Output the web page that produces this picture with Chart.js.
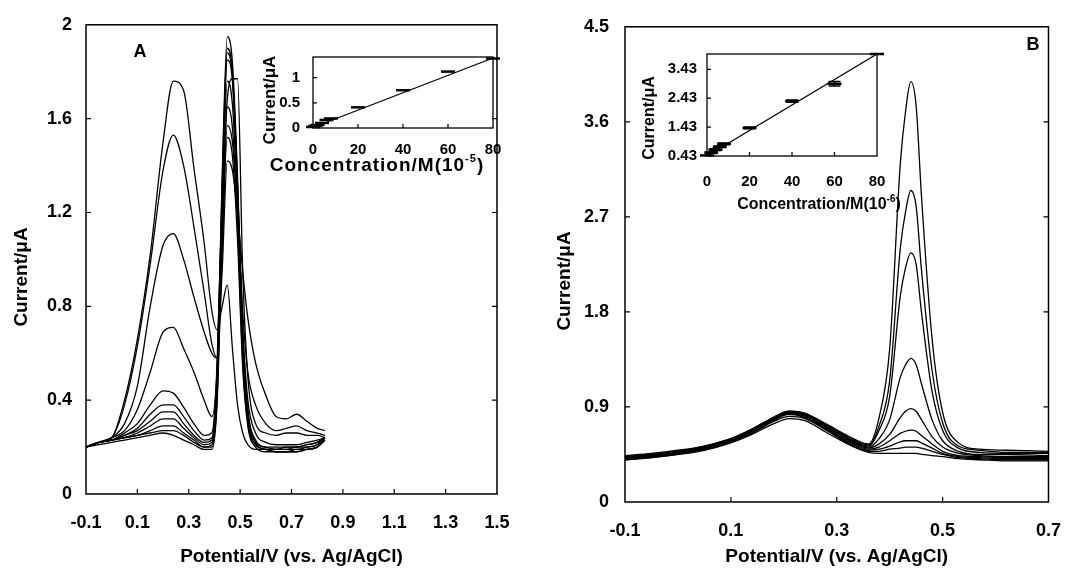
<!DOCTYPE html>
<html><head><meta charset="utf-8">
<script src="https://cdn.jsdelivr.net/npm/chart.js@4.4.1/dist/chart.umd.min.js"></script>
<style>
html,body{margin:0;padding:0;background:#fff;}
body{width:1079px;height:572px;position:relative;overflow:hidden;}
canvas{position:absolute;}
</style></head><body>
<canvas id="mainA" width="540" height="572" style="left:0;top:0;width:540px;height:572px"></canvas>
<canvas id="mainB" width="539" height="572" style="left:540px;top:0;width:539px;height:572px"></canvas>
<canvas id="insetA" width="280" height="150" style="left:240px;top:35px;width:280px;height:150px"></canvas>
<canvas id="insetB" width="300" height="185" style="left:620px;top:35px;width:300px;height:185px"></canvas>
<script>
// ---------- Panel A (left) ----------
const leftPotential = [-0.10,-0.05,0.00,0.05,0.10,0.15,0.20,0.24,0.28,0.32,0.36,0.39,0.41,0.43,0.45,0.47,0.49,0.51,0.53,0.56,0.60,0.64,0.68,0.72,0.76,0.80,0.83];
const leftCurrent1  = [0.20,0.22,0.24,0.40,0.66,1.02,1.50,1.76,1.72,1.39,1.07,0.78,0.70,0.80,0.89,0.62,0.38,0.26,0.21,0.19,0.19,0.19,0.20,0.20,0.21,0.22,0.24];
const leftCurrent2  = [0.20,0.22,0.24,0.38,0.63,0.98,1.38,1.53,1.40,1.14,0.86,0.64,0.58,0.95,1.42,1.38,1.20,0.95,0.75,0.56,0.42,0.33,0.32,0.34,0.31,0.28,0.27];
const leftCurrent3  = [0.20,0.22,0.24,0.30,0.46,0.80,1.06,1.11,1.00,0.84,0.69,0.60,0.58,1.05,1.57,1.50,1.20,0.78,0.52,0.38,0.30,0.27,0.28,0.29,0.27,0.26,0.25];
const leftCurrent4  = [0.20,0.22,0.24,0.27,0.36,0.52,0.69,0.71,0.62,0.52,0.40,0.33,0.52,1.20,1.68,1.77,1.77,0.95,0.50,0.30,0.26,0.25,0.26,0.26,0.25,0.25,0.24];
const leftCurrent5  = [0.20,0.22,0.23,0.26,0.30,0.38,0.44,0.43,0.37,0.30,0.25,0.26,0.55,1.28,1.85,1.76,1.30,0.72,0.40,0.26,0.22,0.21,0.21,0.21,0.22,0.23,0.24];
const leftCurrent6  = [0.20,0.22,0.23,0.25,0.28,0.34,0.38,0.38,0.33,0.27,0.23,0.24,0.50,1.35,1.95,1.84,1.35,0.68,0.36,0.23,0.20,0.20,0.20,0.20,0.21,0.22,0.24];
const leftCurrent7  = [0.20,0.22,0.23,0.25,0.27,0.31,0.35,0.35,0.30,0.25,0.22,0.23,0.48,1.32,1.90,1.80,1.32,0.66,0.35,0.22,0.20,0.19,0.19,0.20,0.20,0.21,0.24];
const leftCurrent8  = [0.20,0.22,0.23,0.24,0.26,0.29,0.32,0.32,0.28,0.24,0.21,0.22,0.45,1.26,1.88,1.78,1.30,0.64,0.34,0.22,0.19,0.19,0.19,0.19,0.20,0.21,0.24];
const leftCurrent9  = [0.20,0.22,0.23,0.24,0.25,0.27,0.29,0.29,0.26,0.23,0.20,0.21,0.42,1.18,1.76,1.66,1.22,0.60,0.32,0.21,0.19,0.18,0.18,0.19,0.19,0.20,0.23];
const leftCurrent10 = [0.20,0.22,0.23,0.24,0.25,0.26,0.27,0.27,0.25,0.22,0.20,0.20,0.40,1.12,1.65,1.56,1.15,0.56,0.30,0.21,0.19,0.18,0.18,0.18,0.19,0.20,0.23];
const leftCurrent11 = [0.20,0.21,0.22,0.23,0.24,0.25,0.26,0.25,0.23,0.21,0.19,0.19,0.38,1.05,1.52,1.44,1.08,0.54,0.29,0.20,0.18,0.18,0.18,0.18,0.19,0.20,0.23];
const leftXTicks = [-0.1,0.1,0.3,0.5,0.7,0.9,1.1,1.3,1.5];
const leftYTicks = [0,0.4,0.8,1.2,1.6,2];

// ---------- Panel B (right) ----------
const rightPotential = [-0.10,-0.05,0.00,0.05,0.10,0.14,0.18,0.21,0.24,0.28,0.32,0.36,0.38,0.40,0.42,0.43,0.44,0.45,0.46,0.48,0.50,0.53,0.57,0.62,0.70];
const rightCurrent1 = [0.44,0.46,0.49,0.53,0.60,0.69,0.80,0.86,0.84,0.74,0.63,0.55,0.80,1.45,3.20,3.70,3.98,3.75,2.90,1.55,0.85,0.56,0.50,0.49,0.48];
const rightCurrent2 = [0.43,0.45,0.48,0.53,0.60,0.69,0.80,0.86,0.84,0.73,0.62,0.54,0.72,1.15,2.40,2.75,2.95,2.80,2.20,1.25,0.75,0.53,0.49,0.47,0.47];
const rightCurrent3 = [0.43,0.45,0.48,0.52,0.59,0.68,0.79,0.85,0.83,0.72,0.61,0.53,0.68,1.00,1.95,2.22,2.36,2.25,1.80,1.05,0.68,0.51,0.47,0.46,0.46];
const rightCurrent4 = [0.42,0.44,0.47,0.52,0.59,0.68,0.79,0.85,0.82,0.72,0.60,0.52,0.60,0.78,1.18,1.30,1.36,1.30,1.12,0.78,0.58,0.48,0.45,0.45,0.44];
const rightCurrent5 = [0.42,0.44,0.47,0.51,0.58,0.67,0.78,0.84,0.82,0.71,0.59,0.51,0.55,0.64,0.80,0.86,0.885,0.86,0.78,0.62,0.52,0.46,0.44,0.43,0.43];
const rightCurrent6 = [0.41,0.43,0.46,0.51,0.58,0.67,0.78,0.84,0.81,0.70,0.58,0.50,0.52,0.58,0.65,0.67,0.68,0.67,0.63,0.55,0.48,0.44,0.43,0.42,0.42];
const rightCurrent7 = [0.41,0.43,0.46,0.50,0.57,0.66,0.77,0.83,0.80,0.69,0.57,0.49,0.50,0.53,0.57,0.58,0.58,0.58,0.56,0.51,0.46,0.43,0.42,0.41,0.41];
const rightCurrent8 = [0.40,0.42,0.45,0.50,0.57,0.65,0.76,0.81,0.79,0.68,0.56,0.48,0.48,0.50,0.51,0.52,0.52,0.52,0.51,0.48,0.45,0.42,0.41,0.40,0.40];
const rightCurrent9 = [0.40,0.42,0.45,0.49,0.56,0.64,0.74,0.79,0.77,0.66,0.55,0.47,0.46,0.46,0.46,0.46,0.46,0.46,0.45,0.44,0.43,0.41,0.40,0.39,0.39];
const rightXTicks = [-0.1,0.1,0.3,0.5,0.7];
const rightYTicks = [0,0.9,1.8,2.7,3.6,4.5];

// ---------- Inset A ----------
const insetAConc = [0,1,2,4,6,8,20,40,60,80];
const insetACurrent = [0.02,0.04,0.06,0.10,0.16,0.19,0.41,0.75,1.12,1.38];
const insetAFitConc = [0,80];
const insetAFitCurrent = [0.01,1.39];
const insetAXTicks = [0,20,40,60,80];
const insetAYTicks = [0,0.5,1];

// ---------- Inset B ----------
const insetBConc = [0,2,4,6,8,20,40,60,80];
const insetBCurrent = [0.45,0.55,0.65,0.75,0.85,1.40,2.33,2.93,3.96];
const insetBError = [0,0.03,0.03,0.03,0.03,0.03,0.04,0.08,0];
const insetBFitConc = [0,80];
const insetBFitCurrent = [0.43,3.96];
const insetBXTicks = [0,20,40,60,80];
const insetBYTicks = [0.43,1.43,2.43,3.43];

const FAM = "'Liberation Sans', Arial, Helvetica, sans-serif";
const fmt = v => String(Number(Number(v).toFixed(2)));

const decor = {
  id: 'decor',
  afterDraw(chart, args, opts) {
    const {ctx, chartArea: a} = chart;
    ctx.save();
    ctx.strokeStyle = '#000';
    ctx.lineWidth = opts.frameWidth || 1.5;
    ctx.strokeRect(a.left, a.top, a.right - a.left, a.bottom - a.top);
    const tl = opts.tickLen || 5;
    const xs = chart.scales.x, ys = chart.scales.y;
    ctx.lineWidth = 1.2;
    ctx.beginPath();
    xs.ticks.forEach(t => {
      const px = xs.getPixelForValue(t.value);
      if (px <= a.left + 1 || px >= a.right - 1) return;
      ctx.moveTo(px, a.bottom); ctx.lineTo(px, a.bottom - tl);
    });
    ys.ticks.forEach(t => {
      const py = ys.getPixelForValue(t.value);
      if (py >= a.bottom - 1 || py <= a.top + 1) return;
      ctx.moveTo(a.left, py); ctx.lineTo(a.left + tl, py);
      if (opts.rightTicks !== false) { ctx.moveTo(a.right, py); ctx.lineTo(a.right - tl, py); }
    });
    ctx.stroke();
    if (opts.errors) {
      const meta = chart.getDatasetMeta(opts.errors.datasetIndex);
      const ds = chart.data.datasets[opts.errors.datasetIndex];
      ctx.lineWidth = 1.5;
      ctx.beginPath();
      meta.data.forEach((el, i) => {
        const e = opts.errors.values[i];
        if (!e) return;
        const yv = ds.data[i].y;
        const y1 = ys.getPixelForValue(yv - e), y2 = ys.getPixelForValue(yv + e);
        ctx.moveTo(el.x, y1); ctx.lineTo(el.x, y2);
        ctx.moveTo(el.x - 6, y1); ctx.lineTo(el.x + 6, y1);
        ctx.moveTo(el.x - 6, y2); ctx.lineTo(el.x + 6, y2);
      });
      ctx.stroke();
    }
    ctx.fillStyle = '#000';
    ctx.textBaseline = 'middle';
    (opts.texts || []).forEach(tx => {
      ctx.save();
      ctx.translate(tx.x, tx.y);
      if (tx.rot) ctx.rotate(tx.rot);
      if (tx.spacing && 'letterSpacing' in ctx) ctx.letterSpacing = tx.spacing + 'px';
      let w = 0;
      tx.parts.forEach(p => { ctx.font = 'bold ' + p.size + 'px ' + FAM; w += ctx.measureText(p.t).width; });
      let x = -w / 2;
      ctx.textAlign = 'left';
      tx.parts.forEach(p => {
        ctx.font = 'bold ' + p.size + 'px ' + FAM;
        ctx.fillText(p.t, x, p.dy || 0);
        x += ctx.measureText(p.t).width;
      });
      ctx.restore();
    });
    ctx.restore();
  }
};

function axis(o) {
  return {
    type: 'linear', min: o.min, max: o.max,
    afterBuildTicks: s => { s.ticks = o.ticks.map(v => ({value: v})); },
    afterFit: s => { if (o.width !== undefined) s.width = o.width; if (o.height !== undefined) s.height = o.height; },
    grid: {display: false, drawTicks: false},
    border: {display: false},
    ticks: {padding: o.pad, color: '#000', autoSkip: false, maxRotation: 0, minRotation: 0,
            font: {family: FAM, size: o.fs, weight: 'bold'}, callback: v => fmt(v)},
    title: o.title ? {display: true, text: o.title, color: '#000',
            font: {family: FAM, size: o.tfs, weight: 'bold'}, padding: {top: 0, bottom: 4}} : {display: false}
  };
}

function curveSets(xs, list) {
  return list.map(arr => ({
    data: xs.map((x, i) => ({x, y: arr[i]})),
    borderColor: '#000', borderWidth: 1.3, pointRadius: 0,
    cubicInterpolationMode: 'monotone', fill: false
  }));
}

const common = {responsive: false, animation: false, events: [], maintainAspectRatio: false};

new Chart(document.getElementById('mainA'), {
  type: 'line',
  data: {datasets: curveSets(leftPotential, [leftCurrent1,leftCurrent2,leftCurrent3,leftCurrent4,leftCurrent5,leftCurrent6,leftCurrent7,leftCurrent8,leftCurrent9,leftCurrent10,leftCurrent11])},
  options: Object.assign({}, common, {
    layout: {padding: {left: 0, top: 22, right: 43, bottom: 0}},
    plugins: {legend: {display: false}, tooltip: {enabled: false},
      decor: {texts: [
        {x: 22, y: 277, rot: -Math.PI/2, parts: [{t: 'Current/\u03BCA', size: 19}]},
        {x: 140, y: 52, parts: [{t: 'A', size: 18}]}
      ]}},
    scales: {
      x: axis({min: -0.1, max: 1.5, ticks: leftXTicks, height: 78, pad: 18, fs: 18, title: 'Potential/V (vs. Ag/AgCl)', tfs: 19}),
      y: axis({min: 0, max: 2, ticks: leftYTicks, width: 86, pad: 14, fs: 18})
    }
  }),
  plugins: [decor]
});

new Chart(document.getElementById('mainB'), {
  type: 'line',
  data: {datasets: curveSets(rightPotential, [rightCurrent1,rightCurrent2,rightCurrent3,rightCurrent4,rightCurrent5,rightCurrent6,rightCurrent7,rightCurrent8,rightCurrent9])},
  options: Object.assign({}, common, {
    layout: {padding: {left: 0, top: 20, right: 15, bottom: 0}},
    plugins: {legend: {display: false}, tooltip: {enabled: false},
      decor: {texts: [
        {x: 25, y: 281, rot: -Math.PI/2, parts: [{t: 'Current/\u03BCA', size: 19}]},
        {x: 493, y: 45, parts: [{t: 'B', size: 18}]}
      ]}},
    scales: {
      x: axis({min: -0.1, max: 0.7, ticks: rightXTicks, height: 70, pad: 18, fs: 18, title: 'Potential/V (vs. Ag/AgCl)', tfs: 19}),
      y: axis({min: 0, max: 4.5, ticks: rightYTicks, width: 85, pad: 16, fs: 18})
    }
  }),
  plugins: [decor]
});

function insetSets(cx, cy, fx, fy) {
  return [
    {type: 'line', data: fx.map((x, i) => ({x, y: fy[i]})), borderColor: '#000', borderWidth: 1.3, pointRadius: 0, fill: false, clip: 10},
    {type: 'scatter', data: cx.map((x, i) => ({x, y: cy[i]})), borderColor: '#000', backgroundColor: '#000',
     pointStyle: 'line', pointRadius: 7, borderWidth: 2.5, clip: 10, showLine: false}
  ];
}

new Chart(document.getElementById('insetA'), {
  type: 'scatter',
  data: {datasets: insetSets(insetAConc, insetACurrent, insetAFitConc, insetAFitCurrent)},
  options: Object.assign({}, common, {
    layout: {padding: {left: 0, top: 14, right: 27, bottom: 0}},
    plugins: {legend: {display: false}, tooltip: {enabled: false},
      decor: {rightTicks: false, tickLen: 4, frameWidth: 1.3, texts: [
        {x: 30, y: 65, rot: -Math.PI/2, parts: [{t: 'Current/\u03BCA', size: 17}]},
        {x: 137, y: 131, spacing: 1, parts: [{t: 'Concentration/M(10', size: 19}, {t: '-5', size: 11, dy: -7}, {t: ')', size: 19}]}
      ]}},
    scales: {
      x: axis({min: 0, max: 80, ticks: insetAXTicks, height: 57, pad: 13, fs: 15}),
      y: axis({min: 0, max: 1.41, ticks: insetAYTicks, width: 73, pad: 13, fs: 15})
    }
  }),
  plugins: [decor]
});

new Chart(document.getElementById('insetB'), {
  type: 'scatter',
  data: {datasets: insetSets(insetBConc, insetBCurrent, insetBFitConc, insetBFitCurrent)},
  options: Object.assign({}, common, {
    layout: {padding: {left: 0, top: 15, right: 43, bottom: 0}},
    plugins: {legend: {display: false}, tooltip: {enabled: false},
      decor: {rightTicks: false, tickLen: 4, frameWidth: 1.3, errors: {datasetIndex: 1, values: insetBError}, texts: [
        {x: 30, y: 83, rot: -Math.PI/2, parts: [{t: 'Current/\u03BCA', size: 16}]},
        {x: 199, y: 170, parts: [{t: 'Concentration/M(10', size: 16}, {t: '-6', size: 10, dy: -6}, {t: ')', size: 16}]}
      ]}},
    scales: {
      x: axis({min: 0, max: 80, ticks: insetBXTicks, height: 64, pad: 17, fs: 15}),
      y: axis({min: 0.43, max: 3.96, ticks: insetBYTicks, width: 87, pad: 10, fs: 15})
    }
  }),
  plugins: [decor]
});
</script>
</body></html>
